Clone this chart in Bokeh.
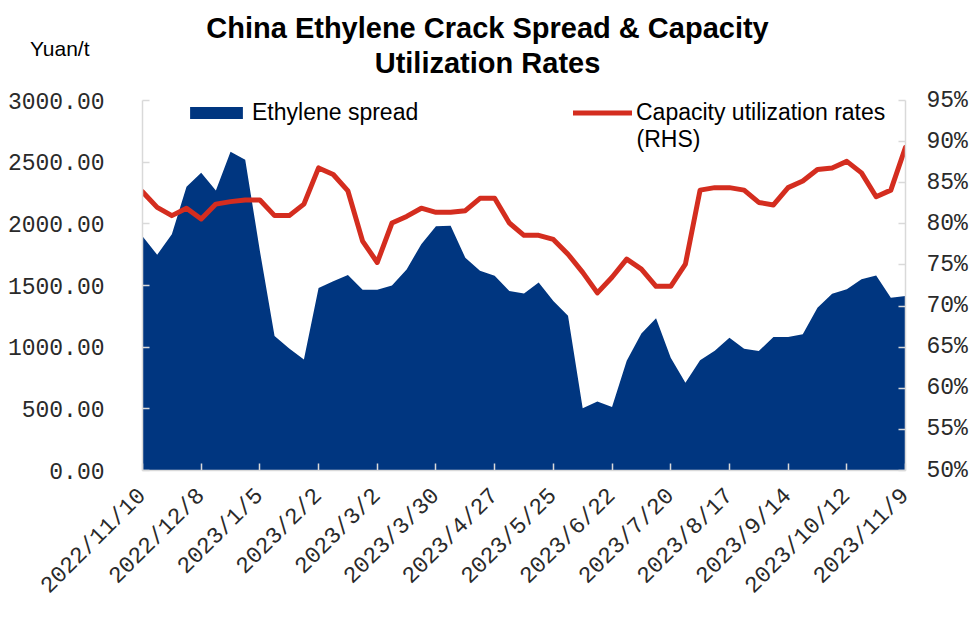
import math
from bokeh.plotting import figure
from bokeh.layouts import column
from bokeh.models import (Range1d, LinearAxis, FixedTicker, PrintfTickFormatter,
                          Legend, LegendItem, Label)
from bokeh.embed import file_html
from bokeh.resources import INLINE

# ---------------- data ----------------
dates = [
    "2022/11/10", "2022/11/17", "2022/11/24", "2022/12/1", "2022/12/8", "2022/12/15",
    "2022/12/22", "2022/12/29", "2023/1/5", "2023/1/12", "2023/1/19", "2023/1/26",
    "2023/2/2", "2023/2/9", "2023/2/16", "2023/2/23", "2023/3/2", "2023/3/9",
    "2023/3/16", "2023/3/23", "2023/3/30", "2023/4/6", "2023/4/13", "2023/4/20",
    "2023/4/27", "2023/5/4", "2023/5/11", "2023/5/18", "2023/5/25", "2023/6/1",
    "2023/6/8", "2023/6/15", "2023/6/22", "2023/6/29", "2023/7/6", "2023/7/13",
    "2023/7/20", "2023/7/27", "2023/8/3", "2023/8/10", "2023/8/17", "2023/8/24",
    "2023/8/31", "2023/9/7", "2023/9/14", "2023/9/21", "2023/9/28", "2023/10/5",
    "2023/10/12", "2023/10/19", "2023/10/26", "2023/11/2", "2023/11/9",
]

# Ethylene crack spread, Yuan/t (left axis)
spread = [
    1900, 1750, 1915, 2300, 2415, 2270, 2585, 2520, 1780, 1090,
    990, 900, 1480, 1535, 1585, 1465, 1465, 1500, 1630, 1835,
    1980, 1985, 1725, 1620, 1580, 1455, 1435, 1525, 1375, 1255,
    505, 560, 515, 890, 1110, 1235, 915, 712, 893, 970,
    1077, 988, 969, 1082, 1082, 1104, 1320, 1434, 1469, 1550,
    1582, 1401, 1415,
]

# Capacity utilization rate, % (right axis)
utilization = [
    83.9, 82.0, 81.0, 81.9, 80.6, 82.4, 82.7, 82.9, 82.9, 81.0,
    81.0, 82.4, 86.8, 86.0, 84.0, 77.9, 75.3, 80.1, 80.9, 81.9,
    81.4, 81.4, 81.6, 83.1, 83.1, 80.1, 78.6, 78.6, 78.1, 76.3,
    74.1, 71.6, 73.5, 75.7, 74.5, 72.4, 72.4, 75.1, 84.1, 84.4,
    84.4, 84.1, 82.6, 82.3, 84.4, 85.2, 86.6, 86.8, 87.6, 86.2,
    83.3, 84.1, 89.3,
]

left_ticks = [0, 500, 1000, 1500, 2000, 2500, 3000]
right_ticks = [50, 55, 60, 65, 70, 75, 80, 85, 90, 95]
label_step = 4

title_line1 = "China Ethylene Crack Spread & Capacity"
title_line2 = "Utilization Rates"
unit_label = "Yuan/t"
spread_name = "Ethylene spread"
util_name = "Capacity utilization rates"
util_name2 = "(RHS)"

# ---------------- styling ----------------
BLUE = "#003680"
RED = "#d42d1f"
AXIS = "#d9d9d9"
TICKFONT = "Liberation Mono"
TEXTFONT = "Liberation Sans"

W = 974
HEAD_H = 84
MAIN_H = 538
FRAME_L = 142


def lab(text, x0, y0, size, align="center", bold=False):
    return Label(x=x0, y=y0, x_units="screen", y_units="screen", text=text,
                 text_align=align, text_baseline="middle",
                 text_font=TEXTFONT, text_font_size=size,
                 text_font_style="bold" if bold else "normal",
                 text_color="black")


# ---------------- header (title + unit) ----------------
head = figure(width=W, height=HEAD_H, output_backend="svg", toolbar_location=None,
              x_axis_type=None, min_border=0,
              x_range=Range1d(0, W), y_range=Range1d(0, HEAD_H))
head.outline_line_color = None
head.xgrid.visible = False
head.ygrid.visible = False
head.add_layout(lab(title_line1, 487 - FRAME_L, HEAD_H - 27, "29px", bold=True))
head.add_layout(lab(title_line2, 487 - FRAME_L, HEAD_H - 62, "29px", bold=True))
# unit text, shown as the single label of the header's left axis
uax = head.yaxis[0]
uax.ticker = FixedTicker(ticks=[HEAD_H - 48])
uax.major_label_overrides = {HEAD_H - 48: unit_label}
uax.axis_line_color = None
uax.major_tick_line_color = None
uax.minor_tick_line_color = None
uax.major_tick_in = 0
uax.major_tick_out = 0
uax.major_label_standoff = FRAME_L - 89
uax.major_label_text_font = TEXTFONT
uax.major_label_text_font_size = "21px"
uax.major_label_text_color = "black"

# ---------------- main chart ----------------
x = list(range(len(dates)))
x_ticks = x[::label_step]

p = figure(width=W, height=MAIN_H, output_backend="svg", toolbar_location=None,
           x_range=Range1d(0, len(dates) - 1),
           y_range=Range1d(left_ticks[0], left_ticks[-1]),
           min_border_left=FRAME_L, min_border_right=69,
           min_border_top=16, min_border_bottom=152)
p.extra_y_ranges = {"rhs": Range1d(right_ticks[0], right_ticks[-1])}
p.outline_line_color = None
p.xgrid.visible = False
p.ygrid.visible = False

area = p.varea(x=x, y1=[0] * len(x), y2=spread, fill_color=BLUE)
line = p.line(x=x, y=utilization, y_range_name="rhs", line_color=RED,
              line_width=5, line_join="round", line_cap="round")

rax = LinearAxis(y_range_name="rhs")
p.add_layout(rax, "right")


def style_axis(ax):
    ax.axis_line_color = AXIS
    ax.axis_line_width = 1.5
    ax.major_tick_line_color = AXIS
    ax.major_tick_line_width = 1.5
    ax.major_tick_in = 7
    ax.major_tick_out = 0
    ax.minor_tick_line_color = None
    ax.major_label_text_font = TICKFONT
    ax.major_label_text_font_size = "23px"
    ax.major_label_text_color = "#2a2a2a"


xax = p.xaxis[0]
style_axis(xax)
xax.ticker = FixedTicker(ticks=x_ticks)
xax.major_label_overrides = {i: dates[i] for i in x_ticks}
xax.major_label_orientation = math.pi / 4
xax.major_label_standoff = 22

lax = p.yaxis[0]
style_axis(lax)
lax.ticker = FixedTicker(ticks=left_ticks)
lax.formatter = PrintfTickFormatter(format="%.2f")
lax.major_label_standoff = 38

style_axis(rax)
rax.ticker = FixedTicker(ticks=right_ticks)
rax.formatter = PrintfTickFormatter(format="%d%%")
rax.major_label_standoff = 21

# legends
leg_common = dict(padding=0, margin=0, border_line_color=None,
                  background_fill_alpha=0, spacing=0,
                  label_text_font=TEXTFONT, label_text_font_size="23px",
                  label_text_color="black")
leg1 = Legend(items=[LegendItem(label=spread_name, renderers=[area])],
              location=(41, 344), glyph_width=66, glyph_height=15,
              label_standoff=3, **leg_common)
leg2 = Legend(items=[LegendItem(label=util_name, renderers=[line])],
              location=(431, 344), glyph_width=59, glyph_height=11,
              label_standoff=4, **leg_common)
p.add_layout(leg1)
p.add_layout(leg2)
p.add_layout(lab(util_name2, 494, 332, "23px", align="left"))

layout = column(head, p, spacing=0)
open("out.html", "w").write(file_html(layout, INLINE))
